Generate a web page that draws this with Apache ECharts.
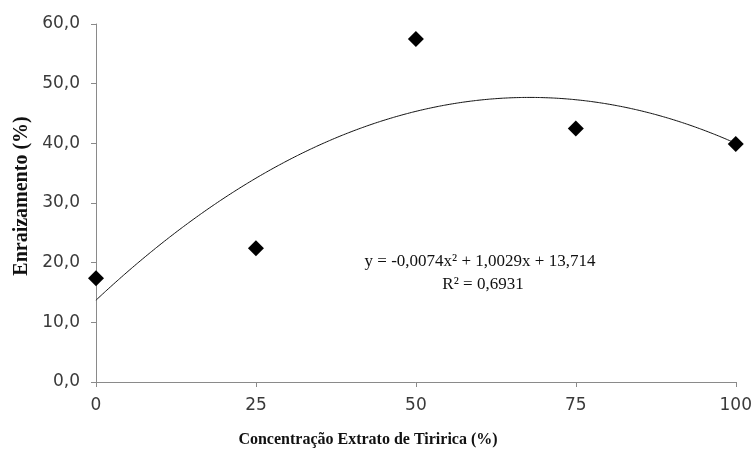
<!DOCTYPE html>
<html>
<head>
<meta charset="utf-8">
<script src="https://cdn.jsdelivr.net/npm/echarts@6/dist/echarts.min.js"></script>
<style>
  html, body { margin: 0; padding: 0; background: #fff; }
  #chart { width: 755px; height: 453px; }
</style>
</head>
<body>
<div id="chart"></div>
<script>
// Rooting percentage by concentration of tiririca extract
const concentrations = [0, 25, 50, 75, 100];
const rooting = [17.4, 22.4, 57.5, 42.5, 39.9];

// Quadratic trend line coefficients as printed on the chart: y = a x² + b x + c
const trendCoef = [-0.0074, 1.0029, 13.714];
const trendLabel = 'y = -0,0074x² + 1,0029x + 13,714';
const r2Label = 'R² = 0,6931';

const xTicks = [0, 25, 50, 75, 100];
const yTicks = [0, 10, 20, 30, 40, 50, 60];

const xTitle = 'Concentração Extrato de Tiririca (%)';
const yTitle = 'Enraizamento (%)';

// sample the trend curve along the x range
const trendPts = [];
for (let x = xTicks[0]; x <= xTicks[xTicks.length - 1]; x += 1) {
  trendPts.push([x, trendCoef[0] * x * x + trendCoef[1] * x + trendCoef[2]]);
}

const chart = echarts.init(document.getElementById('chart'), null, { renderer: 'canvas' });
const axisGray = '#8a8a8a';
const labelFont = { fontFamily: 'DejaVu Sans', fontSize: 17, color: '#3a3a3a' };

chart.setOption({
  animation: false,
  backgroundColor: '#ffffff',
  grid: { left: 96, right: 18, top: 24, bottom: 71 },
  xAxis: {
    type: 'value',
    min: xTicks[0], max: xTicks[xTicks.length - 1], interval: 25,
    splitLine: { show: false },
    axisLine: { lineStyle: { color: axisGray, width: 1 } },
    axisTick: { show: true, length: 5, lineStyle: { color: axisGray } },
    axisLabel: Object.assign({ margin: 15, formatter: v => String(v) }, labelFont)
  },
  yAxis: {
    type: 'value',
    min: yTicks[0], max: yTicks[yTicks.length - 1], interval: 10,
    splitLine: { show: false },
    axisLine: { show: true, lineStyle: { color: axisGray, width: 1 } },
    axisTick: { show: true, length: 5, lineStyle: { color: axisGray } },
    axisLabel: Object.assign({ margin: 16, formatter: v => v.toFixed(1).replace('.', ',') }, labelFont)
  },
  series: [
    {
      type: 'line',
      data: trendPts,
      showSymbol: false,
      smooth: true,
      lineStyle: { color: '#111', width: 1 },
      z: 2
    },
    {
      type: 'scatter',
      data: concentrations.map((x, i) => [x, rooting[i]]),
      symbol: 'diamond',
      symbolSize: 16,
      itemStyle: { color: '#000', opacity: 1 },
      z: 3
    }
  ],
  graphic: [
    {
      type: 'text',
      x: 480, y: 262,
      style: {
        text: trendLabel,
        font: '17px "Liberation Serif"',
        fill: '#111',
        textAlign: 'center', textVerticalAlign: 'middle'
      }
    },
    {
      type: 'text',
      x: 483, y: 285,
      style: {
        text: r2Label,
        font: '17px "Liberation Serif"',
        fill: '#111',
        textAlign: 'center', textVerticalAlign: 'middle'
      }
    },
    {
      type: 'text',
      x: 368, y: 440,
      style: {
        text: xTitle,
        font: 'bold 16px "Liberation Serif"',
        fill: '#111',
        textAlign: 'center', textVerticalAlign: 'middle'
      }
    },
    {
      type: 'text',
      x: 22, y: 196,
      rotation: Math.PI / 2,
      style: {
        text: yTitle,
        font: 'bold 20px "Liberation Serif"',
        fill: '#111',
        textAlign: 'center', textVerticalAlign: 'middle'
      }
    }
  ]
});
</script>
</body>
</html>
